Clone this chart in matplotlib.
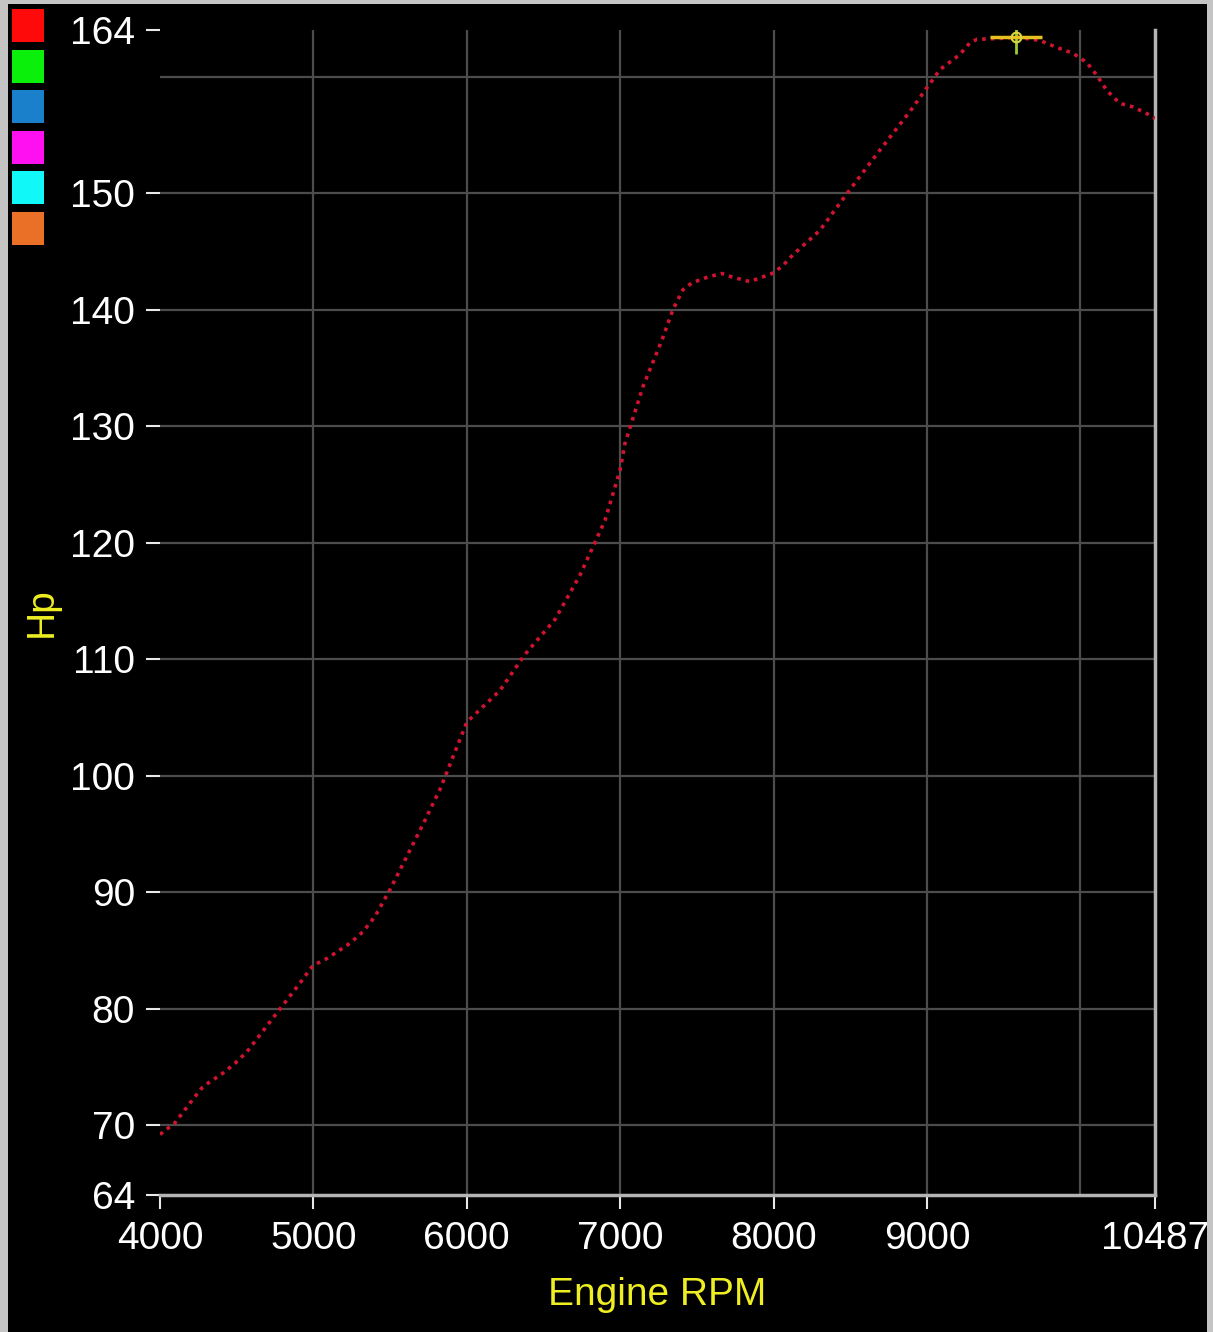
import numpy as np
import matplotlib
matplotlib.use("Agg")
import matplotlib.pyplot as plt
from matplotlib.patches import Rectangle

# ---- data ----
rpm = [4000, 4098, 4196, 4274, 4313, 4404, 4489, 4567, 4737, 4913, 4997, 5088,
       5238, 5323, 5401, 5499, 5695, 5825, 6001, 6216, 6379, 6575, 6738, 6901,
       6999, 7031, 7149, 7273, 7344, 7409, 7468, 7572, 7664, 7729, 7846, 7990,
       8055, 8126, 8302, 8498, 8694, 8889, 9085, 9215, 9280, 9326, 9521, 9580,
       9737, 9848, 9952, 10043, 10108, 10173, 10258, 10343, 10453, 10487]
hp = [69.2, 70.2, 71.9, 73.2, 73.6, 74.4, 75.3, 76.3, 79.2, 82.2, 83.7, 84.3,
      85.6, 86.6, 87.9, 90.2, 95.3, 98.8, 104.6, 107.3, 110.4, 113.4, 117.2, 121.9,
      126.2, 128.5, 133.4, 137.4, 140.0, 141.7, 142.3, 142.8, 143.1, 142.8, 142.4, 143.1,
      143.7, 144.7, 146.8, 150.3, 153.7, 157.0, 160.6, 161.9, 162.9, 163.2, 163.3, 163.4,
      163.1, 162.5, 162.0, 161.2, 160.1, 158.8, 157.7, 157.4, 156.7, 156.4]

x_ticks = [4000, 5000, 6000, 7000, 8000, 9000, 10487]
y_ticks = [64, 70, 80, 90, 100, 110, 120, 130, 140, 150, 164]
x_grid = [5000, 6000, 7000, 8000, 9000, 10000]
y_grid = [70, 80, 90, 100, 110, 120, 130, 140, 150, 160]
legend_colors = ["#ff0a0a", "#0af00a", "#1a80cc", "#ff10f0", "#10f8f8", "#ea7028"]

W, H = 1213, 1332
fig = plt.figure(figsize=(W / 100, H / 100), dpi=100, facecolor="black")
plt.rcParams['font.family'] = ['Liberation Sans', 'DejaVu Sans']

def px_rect(x0, y0, w, h, color):
    fig.patches.append(Rectangle((x0 / W, 1 - (y0 + h) / H), w / W, h / H,
                                 transform=fig.transFigure, facecolor=color,
                                 edgecolor="none", zorder=0))

# gray window frame
px_rect(0, 0, 8, H, "#c4c4c4")
px_rect(0, 0, W, 4, "#c4c4c4")
px_rect(1207, 0, 6, H, "#c4c4c4")

# legend color swatches
for i, c in enumerate(legend_colors):
    px_rect(12, 9 + i * 40.6, 32, 33, c)

ax = fig.add_axes([160 / W, (H - 1195) / H, 995 / W, 1165 / H])
ax.set_facecolor("black")
ax.set_xlim(4000, 10487)
ax.set_ylim(64, 164)

for gx in x_grid:
    ax.axvline(gx, color="#4c4c4c", lw=1.6, zorder=1)
for gy in y_grid:
    ax.axhline(gy, color="#4c4c4c", lw=1.6, zorder=1)

ax.plot(rpm, hp, color="#d01430", lw=2.6, linestyle=(0, (1.0, 1.4)), zorder=3)

# peak marker
i_pk = int(np.argmax(hp))
ax.plot([rpm[i_pk]], [hp[i_pk]], marker="|", ms=24, mew=2, color="#9ccc30", zorder=4)
ax.plot([rpm[i_pk]], [hp[i_pk]], marker="_", ms=38, mew=2.5, color="#e8c020", zorder=5)
ax.plot([rpm[i_pk]], [hp[i_pk]], marker="o", ms=7, mew=1.5, mfc="none", mec="#d8d840", zorder=6)

for s in ["left", "top"]:
    ax.spines[s].set_visible(False)
for s in ["bottom", "right"]:
    ax.spines[s].set_color("#b4b4b4")
    ax.spines[s].set_linewidth(2.5)

ax.set_xticks(x_ticks)
ax.set_xticklabels([str(v) for v in x_ticks])
ax.set_yticks(y_ticks)
ax.set_yticklabels([str(v) for v in y_ticks])
ax.tick_params(axis="both", colors="#e8e8e8", labelcolor="white", labelsize=28,
               direction="out", length=10, width=1.5)
ax.tick_params(axis="y", pad=8)
ax.tick_params(axis="x", pad=9)
ax.grid(False)

fig.text(42 / W, 1 - 612 / H, "Hp", color="#eeee22", fontsize=28,
         rotation=90, ha="center", va="center")
fig.text(657 / W, 1 - 1295 / H, "Engine RPM", color="#eeee22", fontsize=28,
         ha="center", va="center")

fig.savefig("out.png", dpi=100, facecolor=fig.get_facecolor())
